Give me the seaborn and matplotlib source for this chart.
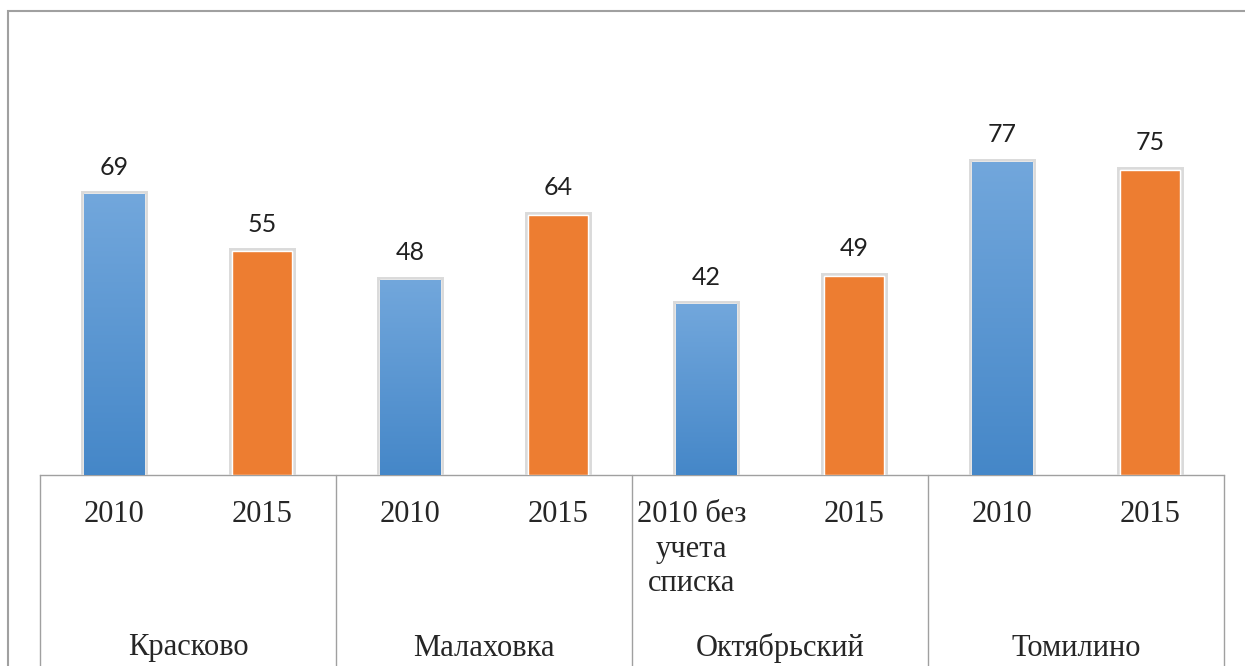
import numpy as np
import pandas as pd
import matplotlib
matplotlib.use("Agg")
import matplotlib.pyplot as plt
import matplotlib.patheffects as pe
from matplotlib.colors import LinearSegmentedColormap
from matplotlib.patches import Rectangle
import seaborn as sns

# =============================
# Data
# =============================
groups = ["Красково", "Малаховка", "Октябрьский", "Томилино"]
year_labels = ["2010", "2015", "2010", "2015", "2010 без\nучета\nсписка", "2015", "2010", "2015"]
series = ["2010", "2015", "2010", "2015", "2010", "2015", "2010", "2015"]
values = [69, 55, 48, 64, 42, 49, 77, 75]

df = pd.DataFrame({
    "slot": list(range(len(values))),
    "value": values,
    "series": series,
})

# =============================
# Figure / axes
# =============================
sns.set_style("white")
W, H = 1245, 666
fig = plt.figure(figsize=(W / 100, H / 100), dpi=100)
ax_left, ax_right, ax_bottom, ax_top = 40, 1224, 475, 68
ax = fig.add_axes([ax_left / W, (H - ax_bottom) / H,
                   (ax_right - ax_left) / W, (ax_bottom - ax_top) / H])

# outer chart border (left + top visible)
fig.patches.append(Rectangle((8 / W, -0.1), 1.2, (H - 11) / H + 0.1,
                             transform=fig.transFigure, fill=False,
                             edgecolor="#a0a0a0", linewidth=1.5))

palette = {"2010": "#5B9BD5", "2015": "#ED7D31"}
sns.barplot(data=df, x="slot", y="value", hue="series", palette=palette,
            dodge=False, width=0.41, saturation=1, legend=False, ax=ax, zorder=3)

# gradient on blue bars + soft shadow on all bars
blue_cmap = LinearSegmentedColormap.from_list("b", ["#4587C8", "#72A7DC"])
grad = np.linspace(0, 1, 256).reshape(-1, 1)
bars = sorted(ax.patches, key=lambda p: p.get_x())
for bar, s in zip(bars, series):
    bar.set_path_effects([pe.withStroke(linewidth=5, foreground="#dadada"), pe.Normal()])
    if s == "2010":
        x0, w, h = bar.get_x(), bar.get_width(), bar.get_height()
        im = ax.imshow(grad, extent=(x0, x0 + w, 0, h), origin="lower",
                       cmap=blue_cmap, aspect="auto", zorder=4)
        im.set_clip_path(bar)

ax.set_xlim(-0.5, len(values) - 0.5)
ax.set_ylim(0, 100)

# value labels
for i, v in enumerate(values):
    ax.annotate(str(v), (i, v), xytext=(0, 11), textcoords="offset points",
                ha="center", va="bottom", fontsize=18, family="Lato", color="#202020")

# axes styling
for side in ["top", "right", "left"]:
    ax.spines[side].set_visible(False)
ax.spines["bottom"].set_color("#a0a0a0")
ax.spines["bottom"].set_linewidth(1)
ax.set_xticks([])
ax.set_yticks([])
ax.set_xlabel("")
ax.set_ylabel("")

# multi-level category axis
ax_h = ax_bottom - ax_top
trans = ax.get_xaxis_transform()
for k in range(len(groups) + 1):
    xk = -0.5 + 2 * k
    ax.plot([xk, xk], [0, -(H - ax_bottom) / ax_h - 0.01], color="#a0a0a0",
            linewidth=1, transform=trans, clip_on=False)

for i, lab in enumerate(year_labels):
    xi = i - 0.1 if "\n" in lab else i
    ax.text(xi, -25 / ax_h, lab, transform=trans, ha="center", va="top",
            multialignment="center", fontsize=22, family="Liberation Serif",
            linespacing=1.25)

for g, name in enumerate(groups):
    ax.text(2 * g + 0.5, -173 / ax_h, name, transform=trans, ha="center",
            va="center", fontsize=22, family="Liberation Serif")

fig.savefig("out.png", dpi=100)
